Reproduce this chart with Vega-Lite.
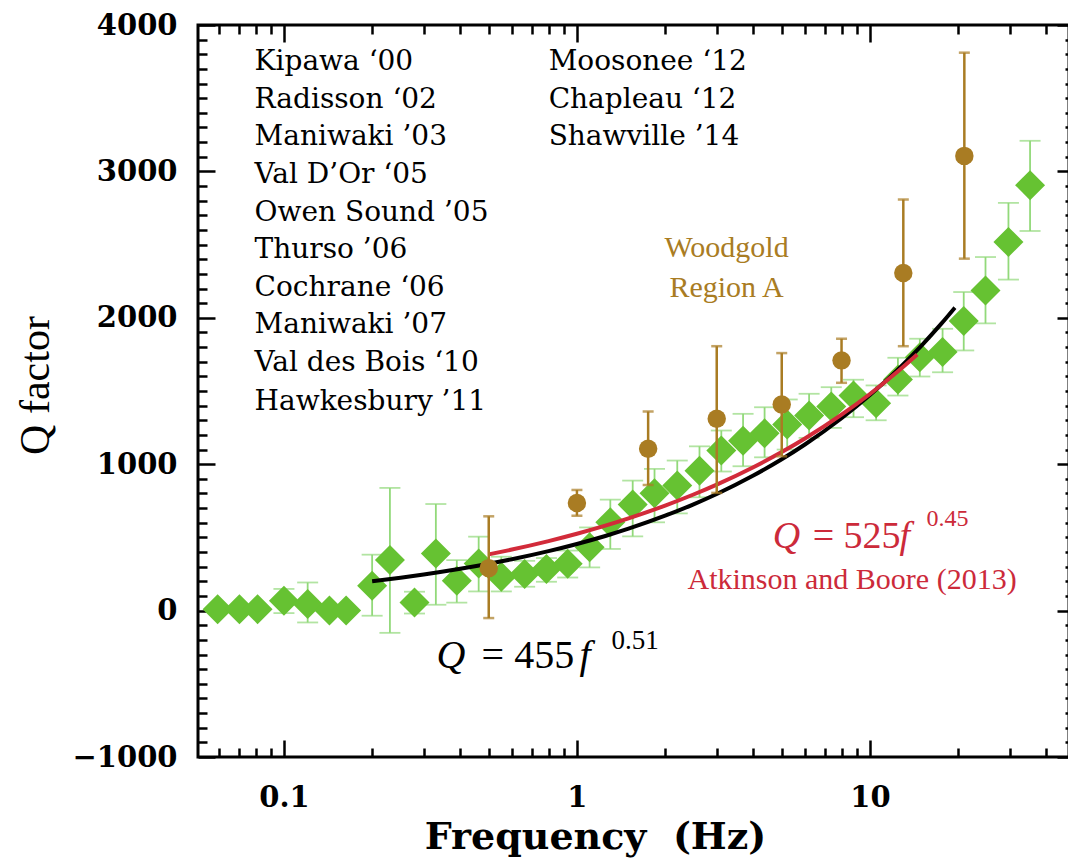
{
  "$schema": "https://vega.github.io/schema/vega-lite/v6.json",
  "width": 871,
  "height": 732,
  "autosize": {"type": "none"},
  "padding": {"left": 198, "top": 25, "right": 0, "bottom": 108},
  "background": "white",
  "config": {
    "view": {"stroke": "black", "strokeWidth": 3},
    "axis": {
      "domain": false,
      "grid": false,
      "ticks": true,
      "tickColor": "black",
      "tickWidth": 2.5,
      "labelColor": "black",
      "labelFont": "DejaVu Serif",
      "labelFontWeight": "bold",
      "labelFontSize": 29,
      "titleColor": "black",
      "zindex": 1
    }
  },
  "datasets": {
    "green": [
      {"f": 0.0594, "q": 10},
      {"f": 0.0705, "q": 10},
      {"f": 0.0813, "q": 10},
      {"f": 0.1, "q": 67, "lo": -17, "hi": 148},
      {"f": 0.1205, "q": 45, "lo": -81, "hi": 192},
      {"f": 0.143, "q": 0},
      {"f": 0.163, "q": 0},
      {"f": 0.2, "q": 170, "lo": -35, "hi": 382},
      {"f": 0.23, "q": 345, "lo": -152, "hi": 838},
      {"f": 0.279, "q": 55, "lo": -20, "hi": 129},
      {"f": 0.33, "q": 390, "lo": 40, "hi": 728},
      {"f": 0.389, "q": 204, "lo": 55, "hi": 345},
      {"f": 0.462, "q": 322, "lo": 131, "hi": 505},
      {"f": 0.552, "q": 231, "lo": 131, "hi": 368},
      {"f": 0.663, "q": 250, "lo": 163, "hi": 340},
      {"f": 0.787, "q": 284, "lo": 197, "hi": 359},
      {"f": 0.93, "q": 320, "lo": 226, "hi": 410},
      {"f": 1.105, "q": 432, "lo": 295, "hi": 568},
      {"f": 1.3, "q": 603, "lo": 421, "hi": 758},
      {"f": 1.55, "q": 724, "lo": 507, "hi": 888},
      {"f": 1.84, "q": 801, "lo": 603, "hi": 968},
      {"f": 2.2, "q": 854, "lo": 664, "hi": 1025},
      {"f": 2.62, "q": 956, "lo": 774, "hi": 1122},
      {"f": 3.11, "q": 1093, "lo": 950, "hi": 1230},
      {"f": 3.69, "q": 1161, "lo": 986, "hi": 1344},
      {"f": 4.37, "q": 1211, "lo": 1047, "hi": 1389},
      {"f": 5.22, "q": 1271, "lo": 1100, "hi": 1442},
      {"f": 6.2, "q": 1332, "lo": 1180, "hi": 1481},
      {"f": 7.38, "q": 1394, "lo": 1248, "hi": 1526},
      {"f": 8.79, "q": 1469, "lo": 1321, "hi": 1577},
      {"f": 10.5, "q": 1417, "lo": 1300, "hi": 1538},
      {"f": 12.46, "q": 1579, "lo": 1469, "hi": 1727},
      {"f": 14.8, "q": 1731, "lo": 1599, "hi": 1857},
      {"f": 17.7, "q": 1766, "lo": 1628, "hi": 1925},
      {"f": 20.9, "q": 1978, "lo": 1777, "hi": 2176},
      {"f": 24.8, "q": 2187, "lo": 1962, "hi": 2415},
      {"f": 29.7, "q": 2518, "lo": 2261, "hi": 2785},
      {"f": 35.2, "q": 2906, "lo": 2593, "hi": 3209}
    ],
    "brown": [
      {"f": 0.5, "q": 290, "lo": -51, "hi": 644},
      {"f": 1.0, "q": 735, "lo": 648, "hi": 824},
      {"f": 1.75, "q": 1105, "lo": 858, "hi": 1360},
      {"f": 3.0, "q": 1310, "lo": 804, "hi": 1806},
      {"f": 5.0, "q": 1408, "lo": 1054, "hi": 1759},
      {"f": 8.0, "q": 1709, "lo": 1556, "hi": 1857},
      {"f": 13.0, "q": 2306, "lo": 1806, "hi": 2808},
      {"f": 21.0, "q": 3106, "lo": 2404, "hi": 3811}
    ],
    "fits": [
      {"model": "This study", "f": 0.2, "q": 200.3},
      {"model": "This study", "f": 0.25, "q": 224.4},
      {"model": "This study", "f": 0.3, "q": 246.3},
      {"model": "This study", "f": 0.4, "q": 285.2},
      {"model": "This study", "f": 0.5, "q": 319.5},
      {"model": "This study", "f": 0.6, "q": 350.7},
      {"model": "This study", "f": 0.8, "q": 406.0},
      {"model": "This study", "f": 1.0, "q": 455.0},
      {"model": "This study", "f": 1.25, "q": 509.8},
      {"model": "This study", "f": 1.5, "q": 559.5},
      {"model": "This study", "f": 2.0, "q": 648.0},
      {"model": "This study", "f": 2.5, "q": 726.0},
      {"model": "This study", "f": 3.0, "q": 796.8},
      {"model": "This study", "f": 4.0, "q": 922.7},
      {"model": "This study", "f": 5.0, "q": 1033.9},
      {"model": "This study", "f": 6.0, "q": 1134.7},
      {"model": "This study", "f": 8.0, "q": 1314.0},
      {"model": "This study", "f": 10.0, "q": 1472.3},
      {"model": "This study", "f": 12.5, "q": 1649.8},
      {"model": "This study", "f": 15.0, "q": 1810.7},
      {"model": "This study", "f": 17.5, "q": 1958.5},
      {"model": "This study", "f": 19.5, "q": 2069.7},
      {"model": "Atkinson and Boore (2013)", "f": 0.5, "q": 384.3},
      {"model": "Atkinson and Boore (2013)", "f": 0.6, "q": 417.2},
      {"model": "Atkinson and Boore (2013)", "f": 0.8, "q": 474.9},
      {"model": "Atkinson and Boore (2013)", "f": 1.0, "q": 525.0},
      {"model": "Atkinson and Boore (2013)", "f": 1.25, "q": 580.4},
      {"model": "Atkinson and Boore (2013)", "f": 1.5, "q": 630.1},
      {"model": "Atkinson and Boore (2013)", "f": 2.0, "q": 717.2},
      {"model": "Atkinson and Boore (2013)", "f": 2.5, "q": 792.9},
      {"model": "Atkinson and Boore (2013)", "f": 3.0, "q": 860.7},
      {"model": "Atkinson and Boore (2013)", "f": 4.0, "q": 979.7},
      {"model": "Atkinson and Boore (2013)", "f": 5.0, "q": 1083.2},
      {"model": "Atkinson and Boore (2013)", "f": 6.0, "q": 1175.8},
      {"model": "Atkinson and Boore (2013)", "f": 8.0, "q": 1338.2},
      {"model": "Atkinson and Boore (2013)", "f": 10.0, "q": 1479.7},
      {"model": "Atkinson and Boore (2013)", "f": 12.5, "q": 1636.0},
      {"model": "Atkinson and Boore (2013)", "f": 14.5, "q": 1748.9}
    ],
    "notes": [
      {"group": "event", "text": "Kipawa ‘00", "f": 0.0794, "q": 3747},
      {"group": "event", "text": "Radisson ‘02", "f": 0.0794, "q": 3487},
      {"group": "event", "text": "Maniwaki ’03", "f": 0.0794, "q": 3234},
      {"group": "event", "text": "Val D’Or ‘05", "f": 0.0794, "q": 2974},
      {"group": "event", "text": "Owen Sound ’05", "f": 0.0794, "q": 2714},
      {"group": "event", "text": "Thurso ’06", "f": 0.0794, "q": 2461},
      {"group": "event", "text": "Cochrane ‘06", "f": 0.0794, "q": 2201},
      {"group": "event", "text": "Maniwaki ’07", "f": 0.0794, "q": 1948},
      {"group": "event", "text": "Val des Bois ‘10", "f": 0.0794, "q": 1688},
      {"group": "event", "text": "Hawkesbury ’11", "f": 0.0794, "q": 1428},
      {"group": "event", "text": "Moosonee ‘12", "f": 0.8006, "q": 3747},
      {"group": "event", "text": "Chapleau ‘12", "f": 0.8006, "q": 3487},
      {"group": "event", "text": "Shawville ’14", "f": 0.8006, "q": 3234},
      {"group": "woodgold", "text": "Woodgold", "f": 3.24, "q": 2475},
      {"group": "woodgold", "text": "Region A", "f": 3.24, "q": 2201},
      {"group": "fit-italic", "text": "Q", "f": 0.3318, "q": -391},
      {"group": "fit-plain", "text": "= 455", "f": 0.4728, "q": -391},
      {"group": "fit-italic", "text": "f", "f": 1.021, "q": -391},
      {"group": "fit-exp", "text": "0.51", "f": 1.313, "q": -261},
      {"group": "ab-italic", "text": "Q", "f": 4.655, "q": 430},
      {"group": "ab-plain", "text": "= 525", "f": 6.375, "q": 430},
      {"group": "ab-italic", "text": "f", "f": 12.62, "q": 430},
      {"group": "ab-exp", "text": "0.45", "f": 15.61, "q": 580},
      {"group": "ab-cite", "text": "Atkinson and Boore (2013)", "f": 8.69, "q": 149}
    ]
  },
  "layer": [
    {
      "data": {"name": "green"},
      "mark": {"type": "rule", "color": "#92D97A", "strokeWidth": 1.8},
      "encoding": {
        "x": {"field": "f", "type": "quantitative",
          "scale": {"type": "log", "domain": [0.0509, 47.8], "nice": false, "zero": false},
          "axis": {"orient": "bottom", "values": [0.1, 1, 10], "format": "~g", "tickSize": -17,
            "labelPadding": 43, "title": "Frequency\u00a0\u00a0(Hz)", "titleFont": "DejaVu Serif",
            "titleFontWeight": "bold", "titleFontSize": 38, "titleX": 397, "titleY": 91,
            "titleBaseline": "alphabetic", "titleAlign": "center"}},
        "y": {"field": "lo", "type": "quantitative",
          "scale": {"domain": [-1000, 4000], "nice": false, "zero": false},
          "axis": {"orient": "left", "values": [-1000, 0, 1000, 2000, 3000, 4000], "format": "d",
            "tickSize": -17, "labelPadding": 38, "title": "Q factor", "titleFont": "Liberation Serif",
            "titleFontWeight": "normal", "titleFontSize": 42, "titleAngle": 270, "titleX": -163,
            "titleY": 360, "titleBaseline": "middle", "titleAlign": "center"}},
        "y2": {"field": "hi"}
      }
    },
    {
      "data": {"name": "green"},
      "transform": [{"fold": ["lo", "hi"], "as": ["end", "value"]}],
      "mark": {"type": "tick", "orient": "horizontal", "color": "#92D97A", "size": 21, "thickness": 1.8},
      "encoding": {
        "x": {"field": "f", "type": "quantitative",
          "axis": {"orient": "bottom", "values": [0.06, 0.07, 0.08, 0.09, 0.2, 0.3, 0.4, 0.5, 0.6, 0.7, 0.8, 0.9, 2, 3, 4, 5, 6, 7, 8, 9, 20, 30, 40],
            "labels": false, "tickSize": -9, "title": null}},
        "y": {"field": "value", "type": "quantitative",
          "axis": {"orient": "left", "values": [-900, -800, -700, -600, -500, -400, -300, -200, -100, 100, 200, 300, 400, 500, 600, 700, 800, 900, 1100, 1200, 1300, 1400, 1500, 1600, 1700, 1800, 1900, 2100, 2200, 2300, 2400, 2500, 2600, 2700, 2800, 2900, 3100, 3200, 3300, 3400, 3500, 3600, 3700, 3800, 3900],
            "labels": false, "tickSize": -9, "title": null}}
      }
    },
    {
      "data": {"name": "green"},
      "mark": {"type": "point", "shape": "diamond", "filled": true, "color": "#66C232", "size": 900, "opacity": 1},
      "encoding": {
        "x": {"field": "f", "type": "quantitative",
          "axis": {"orient": "top", "values": [0.1, 1, 10], "labels": false, "tickSize": -17, "title": null}},
        "y": {"field": "q", "type": "quantitative",
          "axis": {"orient": "right", "values": [-1000, 0, 1000, 2000, 3000, 4000], "labels": false, "tickSize": -12, "title": null}}
      }
    },
    {
      "data": {"name": "fits"},
      "mark": {"type": "line", "strokeWidth": 4, "interpolate": "monotone"},
      "encoding": {
        "x": {"field": "f", "type": "quantitative",
          "axis": {"orient": "top", "values": [0.06, 0.07, 0.08, 0.09, 0.2, 0.3, 0.4, 0.5, 0.6, 0.7, 0.8, 0.9, 2, 3, 4, 5, 6, 7, 8, 9, 20, 30, 40],
            "labels": false, "tickSize": -9, "title": null}},
        "y": {"field": "q", "type": "quantitative",
          "axis": {"orient": "right", "values": [-900, -800, -700, -600, -500, -400, -300, -200, -100, 100, 200, 300, 400, 500, 600, 700, 800, 900, 1100, 1200, 1300, 1400, 1500, 1600, 1700, 1800, 1900, 2100, 2200, 2300, 2400, 2500, 2600, 2700, 2800, 2900, 3100, 3200, 3300, 3400, 3500, 3600, 3700, 3800, 3900],
            "labels": false, "tickSize": -4, "title": null}},
        "color": {"field": "model", "type": "nominal",
          "scale": {"domain": ["This study", "Atkinson and Boore (2013)"], "range": ["#000000", "#D22B3A"]},
          "legend": null}
      }
    },
    {
      "data": {"name": "brown"},
      "mark": {"type": "rule", "color": "#A97C23", "strokeWidth": 2.5},
      "encoding": {
        "x": {"field": "f", "type": "quantitative", "axis": null},
        "y": {"field": "lo", "type": "quantitative", "axis": null},
        "y2": {"field": "hi"}
      }
    },
    {
      "data": {"name": "brown"},
      "transform": [{"fold": ["lo", "hi"], "as": ["end", "value"]}],
      "mark": {"type": "tick", "orient": "horizontal", "color": "#A97C23", "size": 11, "thickness": 2.5},
      "encoding": {
        "x": {"field": "f", "type": "quantitative", "axis": null},
        "y": {"field": "value", "type": "quantitative", "axis": null}
      }
    },
    {
      "data": {"name": "brown"},
      "mark": {"type": "point", "shape": "circle", "filled": true, "color": "#A97C23", "size": 340, "opacity": 1},
      "encoding": {
        "x": {"field": "f", "type": "quantitative", "axis": null},
        "y": {"field": "q", "type": "quantitative", "axis": null}
      }
    },
    {
      "data": {"name": "notes"},
      "transform": [{"filter": "datum.group === 'event'"}],
      "mark": {"type": "text", "font": "DejaVu Serif", "fontSize": 28, "align": "left", "baseline": "middle", "color": "black"},
      "encoding": {
        "x": {"field": "f", "type": "quantitative", "axis": null},
        "y": {"field": "q", "type": "quantitative", "axis": null},
        "text": {"field": "text"}
      }
    },
    {
      "data": {"name": "notes"},
      "transform": [{"filter": "datum.group === 'woodgold'"}],
      "mark": {"type": "text", "font": "Liberation Serif", "fontSize": 30, "align": "center", "baseline": "middle", "color": "#A97C23"},
      "encoding": {
        "x": {"field": "f", "type": "quantitative", "axis": null},
        "y": {"field": "q", "type": "quantitative", "axis": null},
        "text": {"field": "text"}
      }
    },
    {
      "data": {"name": "notes"},
      "transform": [{"filter": "datum.group === 'fit-italic'"}],
      "mark": {"type": "text", "font": "Liberation Serif", "fontStyle": "italic", "fontSize": 40, "align": "left", "baseline": "alphabetic", "color": "black"},
      "encoding": {
        "x": {"field": "f", "type": "quantitative", "axis": null},
        "y": {"field": "q", "type": "quantitative", "axis": null},
        "text": {"field": "text"}
      }
    },
    {
      "data": {"name": "notes"},
      "transform": [{"filter": "datum.group === 'fit-plain'"}],
      "mark": {"type": "text", "font": "Liberation Serif", "fontSize": 40, "align": "left", "baseline": "alphabetic", "color": "black"},
      "encoding": {
        "x": {"field": "f", "type": "quantitative", "axis": null},
        "y": {"field": "q", "type": "quantitative", "axis": null},
        "text": {"field": "text"}
      }
    },
    {
      "data": {"name": "notes"},
      "transform": [{"filter": "datum.group === 'fit-exp'"}],
      "mark": {"type": "text", "font": "Liberation Serif", "fontSize": 27, "align": "left", "baseline": "alphabetic", "color": "black"},
      "encoding": {
        "x": {"field": "f", "type": "quantitative", "axis": null},
        "y": {"field": "q", "type": "quantitative", "axis": null},
        "text": {"field": "text"}
      }
    },
    {
      "data": {"name": "notes"},
      "transform": [{"filter": "datum.group === 'ab-italic'"}],
      "mark": {"type": "text", "font": "Liberation Serif", "fontStyle": "italic", "fontSize": 38, "align": "left", "baseline": "alphabetic", "color": "#CC2A3A"},
      "encoding": {
        "x": {"field": "f", "type": "quantitative", "axis": null},
        "y": {"field": "q", "type": "quantitative", "axis": null},
        "text": {"field": "text"}
      }
    },
    {
      "data": {"name": "notes"},
      "transform": [{"filter": "datum.group === 'ab-plain'"}],
      "mark": {"type": "text", "font": "Liberation Serif", "fontSize": 38, "align": "left", "baseline": "alphabetic", "color": "#CC2A3A"},
      "encoding": {
        "x": {"field": "f", "type": "quantitative", "axis": null},
        "y": {"field": "q", "type": "quantitative", "axis": null},
        "text": {"field": "text"}
      }
    },
    {
      "data": {"name": "notes"},
      "transform": [{"filter": "datum.group === 'ab-exp'"}],
      "mark": {"type": "text", "font": "Liberation Serif", "fontSize": 24, "align": "left", "baseline": "alphabetic", "color": "#CC2A3A"},
      "encoding": {
        "x": {"field": "f", "type": "quantitative", "axis": null},
        "y": {"field": "q", "type": "quantitative", "axis": null},
        "text": {"field": "text"}
      }
    },
    {
      "data": {"name": "notes"},
      "transform": [{"filter": "datum.group === 'ab-cite'"}],
      "mark": {"type": "text", "font": "Liberation Serif", "fontSize": 30, "align": "center", "baseline": "alphabetic", "color": "#CC2A3A"},
      "encoding": {
        "x": {"field": "f", "type": "quantitative", "axis": null},
        "y": {"field": "q", "type": "quantitative", "axis": null},
        "text": {"field": "text"}
      }
    }
  ],
  "resolve": {"axis": {"x": "independent", "y": "independent"}}
}
